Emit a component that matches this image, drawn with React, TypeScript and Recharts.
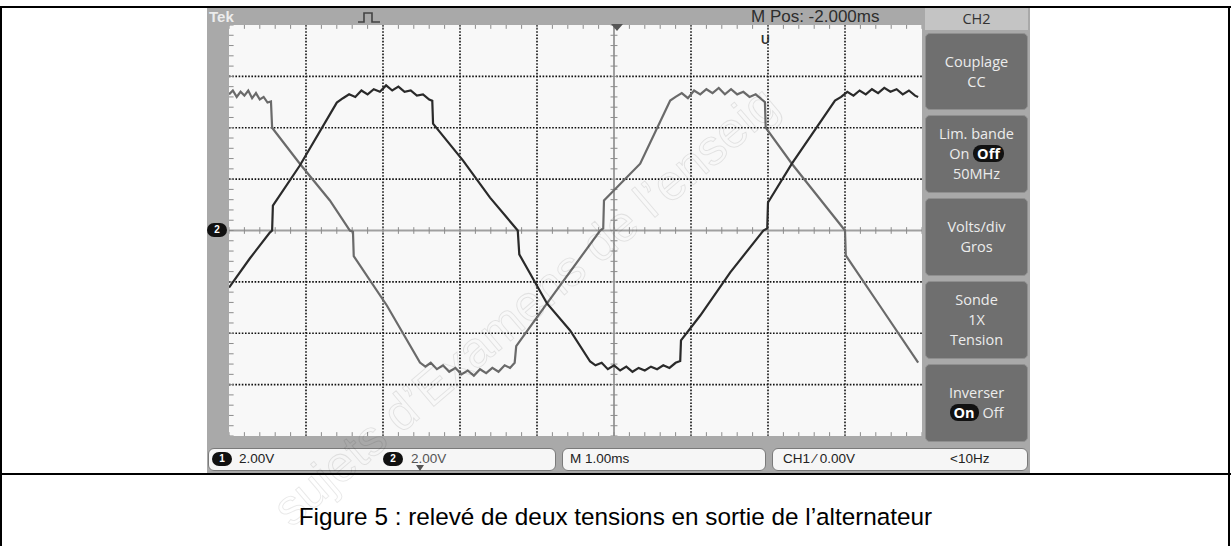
import React from 'react';
import { LineChart, Line, XAxis, YAxis, ReferenceLine } from 'recharts';

// time in ms (1 ms/div), voltage in V (2 V/div)
const waveA: [number, number][] = [
  [0, 5.3], [0.05, 5.45], [0.1, 5.2], [0.15, 5.4], [0.2, 5.25], [0.25, 5.45], [0.3, 5.15], [0.35, 5.35],
  [0.4, 5.1], [0.45, 5.2], [0.5, 4.98], [0.545, 5.02], [0.56, 4.0], [0.92, 2.6], [1.31, 1.17], [1.57, 0.0],
  [1.61, -0.05], [1.62, -1.0], [2.05, -2.92], [2.48, -5.14], [2.55, -5.3], [2.62, -5.15], [2.7, -5.4],
  [2.78, -5.25], [2.86, -5.5], [2.94, -5.35], [3.02, -5.6], [3.1, -5.45], [3.18, -5.65], [3.26, -5.4],
  [3.34, -5.55], [3.42, -5.35], [3.5, -5.5], [3.58, -5.25], [3.65, -5.35], [3.71, -5.15], [3.73, -4.5],
  [4.13, -2.84], [4.82, 0.0], [4.86, 0.08], [4.87, 1.17], [5.34, 2.6], [5.73, 5.06], [5.8, 5.2], [5.88, 5.35],
  [5.96, 5.15], [6.04, 5.45], [6.12, 5.3], [6.2, 5.5], [6.28, 5.35], [6.36, 5.55], [6.44, 5.3], [6.52, 5.5],
  [6.6, 5.3], [6.68, 5.4], [6.76, 5.2], [6.84, 5.3], [6.92, 5.1], [6.96, 5.0], [6.97, 4.0], [7.31, 2.6],
  [8.0, 0.0], [8.01, -0.97], [8.45, -2.92], [8.95, -5.14],
];

const waveB: [number, number][] = [
  [0, -2.22], [0.27, -1.09], [0.53, -0.08], [0.56, 0.0], [0.57, 0.97], [0.92, 2.53], [1.4, 4.98],
  [1.48, 5.15], [1.56, 5.3], [1.64, 5.2], [1.72, 5.45], [1.8, 5.3], [1.88, 5.5], [1.96, 5.4], [2.04, 5.65],
  [2.12, 5.45], [2.2, 5.6], [2.28, 5.4], [2.36, 5.45], [2.44, 5.25], [2.52, 5.3], [2.6, 5.1], [2.64, 5.05],
  [2.65, 4.16], [3.04, 2.72], [3.39, 1.28], [3.75, 0.0], [3.77, -0.93], [4.13, -2.84], [4.43, -3.89],
  [4.69, -5.1], [4.76, -5.25], [4.84, -5.15], [4.92, -5.4], [5.0, -5.25], [5.08, -5.45], [5.16, -5.3],
  [5.24, -5.5], [5.32, -5.35], [5.4, -5.45], [5.48, -5.3], [5.56, -5.4], [5.64, -5.25], [5.72, -5.35],
  [5.8, -5.15], [5.86, -5.08], [5.87, -4.28], [6.12, -3.31], [6.51, -1.63], [6.94, 0.0], [6.99, 0.08],
  [7.0, 1.09], [7.31, 2.6], [7.87, 5.06], [7.95, 5.2], [8.03, 5.4], [8.11, 5.25], [8.19, 5.45], [8.27, 5.3],
  [8.35, 5.5], [8.43, 5.35], [8.51, 5.55], [8.59, 5.4], [8.67, 5.5], [8.75, 5.3], [8.83, 5.45], [8.91, 5.25],
  [8.95, 5.2],
];

const xDomain: [number, number] = [0, 9];
const yDomain: [number, number] = [-8, 8];
const gridX = [1, 2, 3, 4, 6, 7, 8];
const gridY = [-6, -4, -2, 2, 4, 6];
const centerX = 5;
const centerY = 0;
const minorX = Array.from({ length: 46 }, (_, i) => Math.round(i * 20) / 100);
const minorY = Array.from({ length: 41 }, (_, i) => Math.round((-8 + i * 0.4) * 100) / 100);

const menuButtons = [
  { top: 33, h: 77, lines: ['Couplage', 'CC'] },
  { top: 115, h: 78, lines: ['Lim. bande', '__ONOFF_OFF__', '50MHz'] },
  { top: 198, h: 78, lines: ['Volts/div', 'Gros'] },
  { top: 281, h: 78, lines: ['Sonde', '1X', 'Tension'] },
  { top: 364, h: 78, lines: ['Inverser', '__ONOFF_ON__'] },
];

const dataA = waveA.map(([t, v]) => ({ t, v }));
const dataB = waveB.map(([t, v]) => ({ t, v }));

const abs = (l: number, t: number, w: number, h: number, extra: React.CSSProperties = {}): React.CSSProperties => ({
  position: 'absolute', left: l, top: t, width: w, height: h, ...extra,
});

const pill: React.CSSProperties = {
  display: 'inline-block', background: '#111', color: '#fff', borderRadius: 8, padding: '0 4px',
  lineHeight: '17px', fontWeight: 700,
};

function OnOff({ active }: { active: 'On' | 'Off' }) {
  return (
    <span>
      {active === 'On' ? <span style={pill}>On</span> : <span>On</span>}
      {' '}
      {active === 'Off' ? <span style={pill}>Off</span> : <span>Off</span>}
    </span>
  );
}

function ChanBadge({ n, left, top }: { n: string; left: number; top: number }) {
  return (
    <div style={abs(left, top, 20, 14, {
      background: '#111', borderRadius: 7, color: '#fff', fontSize: 10, fontWeight: 700,
      textAlign: 'center', lineHeight: '14px', fontFamily: 'Liberation Sans, Arial, sans-serif',
    })}>{n}</div>
  );
}

export default function App() {
  const tickStroke = '#8c8c8c';
  return (
    <div style={abs(0, 0, 1231, 546, { background: '#fff', overflow: 'hidden', fontFamily: 'Liberation Sans, Arial, sans-serif' })}>
      {/* table borders */}
      <div style={abs(0, 6, 1231, 2, { background: '#000' })} />
      <div style={abs(0, 6, 2, 540, { background: '#000' })} />
      <div style={abs(1228, 6, 2, 540, { background: '#000' })} />
      <div style={abs(0, 473, 1231, 2, { background: '#000' })} />

      {/* scope frame */}
      <div style={abs(207, 8, 823, 465, { background: '#a9a9a9' })} />
      <div style={abs(209, 8, 40, 17, { color: '#ececec', fontWeight: 700, fontSize: 15, lineHeight: '17px' })}>Tek</div>
      <svg style={abs(358, 10, 22, 14)} viewBox="0 0 22 14">
        <path d="M0 12 L6 12 L6 3 L14 3 L14 12 L22 12" fill="none" stroke="#444" strokeWidth={1.6} />
      </svg>
      <div style={abs(751, 8, 150, 18, { color: '#2e2e2e', fontSize: 17, lineHeight: '18px', whiteSpace: 'nowrap' })}>M Pos: -2.000ms</div>

      {/* plot */}
      <div style={abs(229, 25, 693, 411, { background: '#f8f8f8' })}>
        <LineChart width={693} height={411} margin={{ top: 0, right: 0, bottom: 0, left: 0 }}>
          <XAxis type="number" dataKey="t" domain={xDomain} hide allowDataOverflow />
          <YAxis type="number" dataKey="v" domain={yDomain} hide allowDataOverflow />
          {gridX.map((x) => (
            <ReferenceLine key={'gx' + x} x={x} stroke="#111" strokeWidth={1.6} strokeDasharray="1.6 1.6" />
          ))}
          {gridY.map((y) => (
            <ReferenceLine key={'gy' + y} y={y} stroke="#111" strokeWidth={1.6} strokeDasharray="1.6 1.6" />
          ))}
          <ReferenceLine x={centerX} stroke="#a0a0a0" strokeWidth={2} />
          <ReferenceLine y={centerY} stroke="#a0a0a0" strokeWidth={2} />
          {minorX.map((x) => (
            <ReferenceLine key={'mxc' + x} segment={[{ x, y: -0.13 }, { x, y: 0.13 }]} stroke={tickStroke} strokeWidth={1} ifOverflow="visible" />
          ))}
          {minorX.map((x) => (
            <ReferenceLine key={'mxt' + x} segment={[{ x, y: 8 }, { x, y: 7.85 }]} stroke={tickStroke} strokeWidth={1} ifOverflow="visible" />
          ))}
          {minorX.map((x) => (
            <ReferenceLine key={'mxb' + x} segment={[{ x, y: -8 }, { x, y: -7.85 }]} stroke={tickStroke} strokeWidth={1} ifOverflow="visible" />
          ))}
          {minorY.map((y) => (
            <ReferenceLine key={'myc' + y} segment={[{ x: centerX - 0.045, y }, { x: centerX + 0.045, y }]} stroke={tickStroke} strokeWidth={1} ifOverflow="visible" />
          ))}
          {minorY.map((y) => (
            <ReferenceLine key={'myl' + y} segment={[{ x: 0, y }, { x: 0.06, y }]} stroke={tickStroke} strokeWidth={1} ifOverflow="visible" />
          ))}
          <Line data={dataA} dataKey="v" type="linear" dot={false} stroke="#6a6a6a" strokeWidth={2.2} isAnimationActive={false} />
          <Line data={dataB} dataKey="v" type="linear" dot={false} stroke="#2a2a2a" strokeWidth={2.2} isAnimationActive={false} />
        </LineChart>
      </div>
      {/* trigger position marker */}
      <svg style={abs(611, 24, 12, 8)} viewBox="0 0 12 8">
        <path d="M0 0 L12 0 L6 7 Z" fill="#555" />
      </svg>
      <div style={abs(761, 33, 12, 14, { color: '#333', fontWeight: 700, fontSize: 12, lineHeight: '14px' })}>U</div>
      <ChanBadge n="2" left={207} top={223} />

      {/* side menu */}
      <div style={abs(925, 8, 103, 22, { background: '#c4c4c4', color: '#333', fontSize: 14.5, textAlign: 'center', lineHeight: '22px', fontFamily: 'Open Sans, sans-serif' })}>CH2</div>
      {menuButtons.map((b, i) => (
        <div key={i} style={abs(925, b.top, 103, b.h, {
          background: '#6f6f6f', border: '1.5px solid #8f8f8f', borderRadius: 5, boxSizing: 'border-box',
          color: '#ececec', fontSize: 14.5, fontFamily: 'Open Sans, sans-serif', display: 'flex', flexDirection: 'column',
          alignItems: 'center', justifyContent: 'center', lineHeight: '20px',
        })}>
          {b.lines.map((l, j) => (
            <div key={j}>{l === '__ONOFF_OFF__' ? <OnOff active="Off" /> : l === '__ONOFF_ON__' ? <OnOff active="On" /> : l}</div>
          ))}
        </div>
      ))}

      {/* status bar */}
      <div style={abs(208, 448, 348, 23, { background: '#f6f6f6', border: '1px solid #7a7a7a', borderRadius: 6, boxSizing: 'border-box' })} />
      <div style={abs(562, 448, 204, 23, { background: '#f6f6f6', border: '1px solid #7a7a7a', borderRadius: 6, boxSizing: 'border-box' })} />
      <div style={abs(772, 448, 256, 23, { background: '#f6f6f6', border: '1px solid #7a7a7a', borderRadius: 6, boxSizing: 'border-box' })} />
      <ChanBadge n="1" left={212} top={452} />
      <div style={abs(239, 451, 60, 16, { color: '#222', fontSize: 13.5, lineHeight: '16px' })}>2.00V</div>
      <ChanBadge n="2" left={383} top={452} />
      <svg style={abs(416, 465, 8, 6)} viewBox="0 0 8 6"><path d="M0 0 L8 0 L4 6 Z" fill="#555" /></svg>
      <div style={abs(411, 451, 60, 16, { color: '#555', fontSize: 13.5, lineHeight: '16px' })}>2.00V</div>
      <div style={abs(570, 451, 100, 16, { color: '#222', fontSize: 13.5, lineHeight: '16px' })}>M 1.00ms</div>
      <div style={abs(783, 451, 120, 16, { color: '#222', fontSize: 13.5, lineHeight: '16px' })}>CH1 ⁄ 0.00V</div>
      <div style={abs(950, 451, 60, 16, { color: '#222', fontSize: 13.5, lineHeight: '16px' })}>&lt;10Hz</div>

      {/* caption */}
      <div style={abs(0, 502, 1231, 30, { textAlign: 'center', fontSize: 24.3, lineHeight: '30px', color: '#000' })}>
        Figure 5 : relevé de deux tensions en sortie de l’alternateur
      </div>

      {/* watermark */}
      <div style={{
        position: 'absolute', left: 262, top: 494, fontSize: 50, lineHeight: '56px', whiteSpace: 'nowrap',
        transform: 'rotate(-40.5deg)', transformOrigin: '0 0', display: 'inline-block',
        color: 'transparent', WebkitTextStroke: '1px rgba(0,0,0,0.09)', pointerEvents: 'none',
      } as React.CSSProperties}>sujets d’Examens de l’enseig</div>
    </div>
  );
}
